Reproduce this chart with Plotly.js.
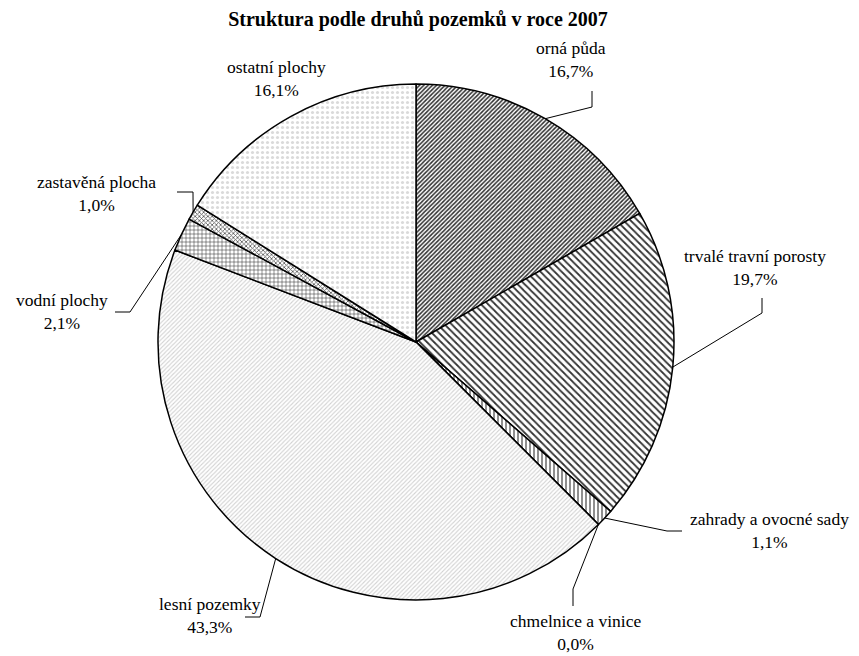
<!DOCTYPE html>
<html><head><meta charset="utf-8">
<script src="https://cdn.plot.ly/plotly-3.0.1.min.js"></script>
<style>html,body{margin:0;padding:0;background:#fff}</style>
</head><body>
<div id="chart" style="width:859px;height:656px"></div>
<script>
// ---- data ----
const categories = ["orná půda", "trvalé travní porosty", "zahrady a ovocné sady", "chmelnice a vinice",
                    "lesní pozemky", "vodní plochy", "zastavěná plocha", "ostatní plochy"];
const shares = [16.7, 19.7, 1.1, 0.0, 43.3, 2.1, 1.0, 16.1];
const chartTitle = "Struktura podle druhů pozemků v roce 2007";

// ---- layout / style ----
const W = 859, H = 656;
const CX = 416, CY = 342, R = 258;
const fontFam = "Liberation Serif";
const patterns = [
  {shape: "/", fgcolor: "#2e2e2e", bgcolor: "#ffffff", size: 3, solidity: 0.5},
  {shape: "\\", fgcolor: "#333333", bgcolor: "#ffffff", size: 5, solidity: 0.35},
  {shape: "|", fgcolor: "#444444", bgcolor: "#ffffff", size: 4, solidity: 0.3},
  {shape: "", fgcolor: "#444444", bgcolor: "#ffffff"},
  {shape: "/", fgcolor: "#d2d2d2", bgcolor: "#ffffff", size: 3, solidity: 0.35},
  {shape: "+", fgcolor: "#333333", bgcolor: "#ffffff", size: 4, solidity: 0.25},
  {shape: "x", fgcolor: "#555555", bgcolor: "#ffffff", size: 3, solidity: 0.45},
  {shape: ".", fgcolor: "#dadada", bgcolor: "#ffffff", size: 5, solidity: 0.3}
];
// label placement (pixel centres) and leader elbows [elbowX, elbowY, endX, endY] per category
const labelPos = [[571, 60], [755, 267], [769, 530], [575, 632], [210, 615], [62, 311], [96, 194], [276, 78]];
const leaders = [[592, 107, 592, 91], [762, 313, 762, 298], [667, 531, 682, 531], [573, 589, 573, 606],
                 [260, 617, 245, 617], [130, 312, 115, 312], [193, 192, 177, 192], null];

const px = x => x / W, py = y => 1 - y / H;
const fmt = v => v.toFixed(1).replace(".", ",") + "%";

const total = shares.reduce((a, b) => a + b, 0);
let cum = 0;
const shapes = [];
const annotations = [];
shares.forEach((v, i) => {
  const midFrac = (cum + v / 2) / total;
  cum += v;
  const ang = midFrac * 2 * Math.PI;
  const ex = CX + R * Math.sin(ang), ey = CY - R * Math.cos(ang);
  const L = leaders[i];
  if (L) {
    shapes.push({type: "path", xref: "paper", yref: "paper",
      path: `M${px(ex)},${py(ey)} L${px(L[0])},${py(L[1])} L${px(L[2])},${py(L[3])}`,
      line: {color: "#000", width: 1}});
  }
  annotations.push({xref: "paper", yref: "paper", x: px(labelPos[i][0]), y: py(labelPos[i][1]),
    xanchor: "center", yanchor: "middle", showarrow: false, align: "center",
    text: categories[i] + "<br>" + fmt(v), font: {family: fontFam, size: 17.5, color: "#000"}});
});

const trace = {
  type: "pie", labels: categories, values: shares, sort: false, direction: "clockwise", rotation: 0,
  textinfo: "none", hoverinfo: "label+percent",
  domain: {x: [px(CX - R), px(CX + R)], y: [py(CY + R), py(CY - R)]},
  marker: {colors: patterns.map(() => "#ffffff"),
           pattern: {shape: patterns.map(p => p.shape), fgcolor: patterns.map(p => p.fgcolor),
                     bgcolor: patterns.map(p => p.bgcolor), size: patterns.map(p => p.size || 4),
                     solidity: patterns.map(p => p.solidity || 0.3), fillmode: "replace"},
           line: {color: "#000", width: 1.5}},
  showlegend: false
};

const layout = {
  width: W, height: H, margin: {l: 0, r: 0, t: 0, b: 0},
  paper_bgcolor: "#fff", plot_bgcolor: "#fff",
  font: {family: fontFam, color: "#000"},
  title: {text: "<b>" + chartTitle + "</b>", x: 418 / W, xanchor: "center", y: 1 - 19 / H, yanchor: "middle",
          font: {family: fontFam, size: 20, color: "#000"}},
  showlegend: false, shapes, annotations
};
Plotly.newPlot("chart", [trace], layout, {displayModeBar: false, staticPlot: true});
</script>
</body></html>
